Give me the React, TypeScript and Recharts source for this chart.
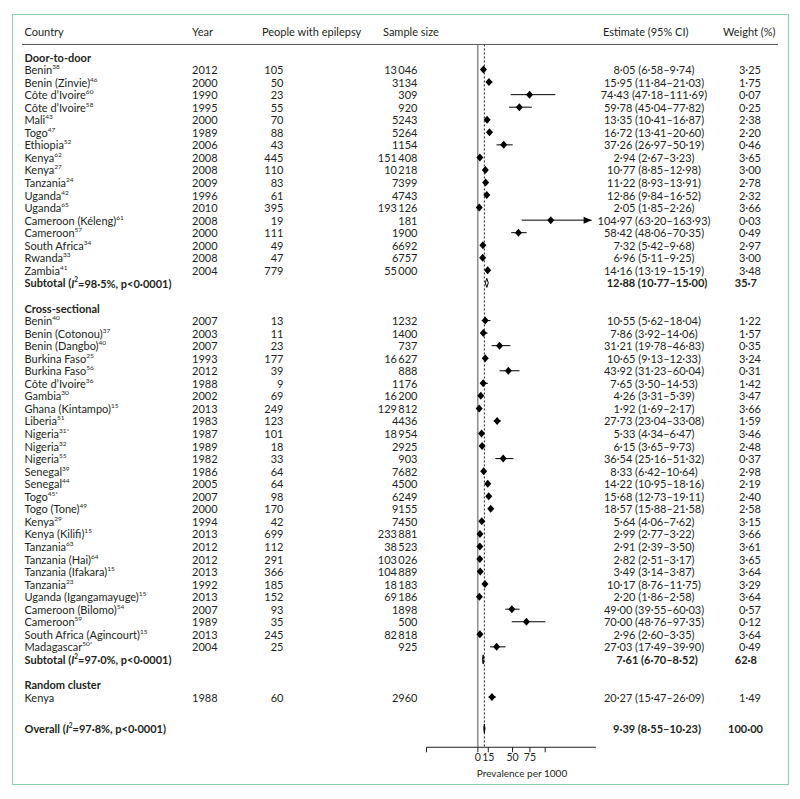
import React from "react";
import { ScatterChart, Scatter, XAxis, YAxis, ErrorBar, ReferenceLine } from "recharts";

// [country, reference, year, people with epilepsy, sample size, estimate, lower, upper, weight %]
type Study = [string, string, number, number, number, number, number, number, number];

const doorToDoor: Study[] = [
  ["Benin", "38", 2012, 105, 13046, 8.05, 6.58, 9.74, 3.25],
  ["Benin (Zinvie)", "46", 2000, 50, 3134, 15.95, 11.84, 21.03, 1.75],
  ["Côte d’Ivoire", "60", 1990, 23, 309, 74.43, 47.18, 111.69, 0.07],
  ["Côte d’Ivoire", "58", 1995, 55, 920, 59.78, 45.04, 77.82, 0.25],
  ["Mali", "43", 2000, 70, 5243, 13.35, 10.41, 16.87, 2.38],
  ["Togo", "47", 1989, 88, 5264, 16.72, 13.41, 20.6, 2.2],
  ["Ethiopia", "52", 2006, 43, 1154, 37.26, 26.97, 50.19, 0.46],
  ["Kenya", "62", 2008, 445, 151408, 2.94, 2.67, 3.23, 3.65],
  ["Kenya", "27", 2008, 110, 10218, 10.77, 8.85, 12.98, 3.0],
  ["Tanzania", "24", 2009, 83, 7399, 11.22, 8.93, 13.91, 2.78],
  ["Uganda", "42", 1996, 61, 4743, 12.86, 9.84, 16.52, 2.32],
  ["Uganda", "65", 2010, 395, 193126, 2.05, 1.85, 2.26, 3.66],
  ["Cameroon (Kéleng)", "61", 2008, 19, 181, 104.97, 63.2, 163.93, 0.03],
  ["Cameroon", "57", 2000, 111, 1900, 58.42, 48.06, 70.35, 0.49],
  ["South Africa", "34", 2000, 49, 6692, 7.32, 5.42, 9.68, 2.97],
  ["Rwanda", "33", 2008, 47, 6757, 6.96, 5.11, 9.25, 3.0],
  ["Zambia", "41", 2004, 779, 55000, 14.16, 13.19, 15.19, 3.48],
];

const crossSectional: Study[] = [
  ["Benin", "40", 2007, 13, 1232, 10.55, 5.62, 18.04, 1.22],
  ["Benin (Cotonou)", "37", 2003, 11, 1400, 7.86, 3.92, 14.06, 1.57],
  ["Benin (Dangbo)", "40", 2007, 23, 737, 31.21, 19.78, 46.83, 0.35],
  ["Burkina Faso", "25", 1993, 177, 16627, 10.65, 9.13, 12.33, 3.24],
  ["Burkina Faso", "56", 2012, 39, 888, 43.92, 31.23, 60.04, 0.31],
  ["Côte d’Ivoire", "36", 1988, 9, 1176, 7.65, 3.5, 14.53, 1.42],
  ["Gambia", "30", 2002, 69, 16200, 4.26, 3.31, 5.39, 3.47],
  ["Ghana (Kintampo)", "15", 2013, 249, 129812, 1.92, 1.69, 2.17, 3.66],
  ["Liberia", "51", 1983, 123, 4436, 27.73, 23.04, 33.08, 1.59],
  ["Nigeria", "31*", 1987, 101, 18954, 5.33, 4.34, 6.47, 3.46],
  ["Nigeria", "32", 1989, 18, 2925, 6.15, 3.65, 9.73, 2.48],
  ["Nigeria", "55", 1982, 33, 903, 36.54, 25.16, 51.32, 0.37],
  ["Senegal", "39", 1986, 64, 7682, 8.33, 6.42, 10.64, 2.98],
  ["Senegal", "44", 2005, 64, 4500, 14.22, 10.95, 18.16, 2.19],
  ["Togo", "45*", 2007, 98, 6249, 15.68, 12.73, 19.11, 2.4],
  ["Togo (Tone)", "49", 2000, 170, 9155, 18.57, 15.88, 21.58, 2.58],
  ["Kenya", "29", 1994, 42, 7450, 5.64, 4.06, 7.62, 3.15],
  ["Kenya (Kilifi)", "15", 2013, 699, 233881, 2.99, 2.77, 3.22, 3.66],
  ["Tanzania", "63", 2012, 112, 38523, 2.91, 2.39, 3.5, 3.61],
  ["Tanzania (Hai)", "64", 2012, 291, 103026, 2.82, 2.51, 3.17, 3.65],
  ["Tanzania (Ifakara)", "15", 2013, 366, 104889, 3.49, 3.14, 3.87, 3.64],
  ["Tanzania", "23", 1992, 185, 18183, 10.17, 8.76, 11.75, 3.29],
  ["Uganda (Igangamayuge)", "15", 2013, 152, 69186, 2.2, 1.86, 2.58, 3.64],
  ["Cameroon (Bilomo)", "54", 2007, 93, 1898, 49.0, 39.55, 60.03, 0.57],
  ["Cameroon", "59", 1989, 35, 500, 70.0, 48.76, 97.35, 0.12],
  ["South Africa (Agincourt)", "15", 2013, 245, 82818, 2.96, 2.6, 3.35, 3.64],
  ["Madagascar", "50*", 2004, 25, 925, 27.03, 17.49, 39.9, 0.49],
];

const randomCluster: Study[] = [["Kenya", "", 1988, 60, 2960, 20.27, 15.47, 26.09, 1.49]];

const groupNames = ["Door-to-door", "Cross-sectional", "Random cluster"];
// [I² %, estimate, lower, upper, weight %]
const subtotals = [
  [98.5, 12.88, 10.77, 15.0, 35.7],
  [97.0, 7.61, 6.7, 8.52, 62.8],
];
const overall = [97.8, 9.39, 8.55, 10.23, 100.0];

const headers = ["Country", "Year", "People with epilepsy", "Sample size", "Estimate (95% CI)", "Weight (%)"];
const axisTicks = [0, 15, 50, 75];
const axisLabel = "Prevalence per 1000";

// layout
const W = 800;
const H = 799;
const X_MIN = -74;
const X_MAX = 170;
const AXIS_MAX = 97;
const PX = 0.694; // px per unit
const PLOT_LEFT = 426.5;
const PLOT_RIGHT = PLOT_LEFT + (X_MAX - X_MIN) * PX;
const ROW_H = 12.55;
const ROW0_Y = 57;
const Y_MIN = -3;
const Y_MAX = 55;
const PLOT_TOP = ROW0_Y + Y_MIN * ROW_H;
const PLOT_BOTTOM = ROW0_Y + Y_MAX * ROW_H;
const AXIS_H = 40;
const ARROW_FROM = 150;
const DIAMOND_H = 0.36; // rows

const INK = "#231f20";
const FONT = "Lato, 'Noto Sans', sans-serif";
const FS = 11;
const COL = { country: 24.5, year: 192, cases: 283.5, n: 417.5, est: 654, w: 761 };
const HEAD_X = [24.5, 192, 262, 383, 603, 723];

const dec = (v: number, d = 2) => v.toFixed(d).replace(".", "·");
const ciText = (e: number, lo: number, hi: number) => `${dec(e)} (${dec(lo)}–${dec(hi)})`;
const big = (n: number) =>
  n >= 10000 ? String(n).replace(/\B(?=(\d{3})+(?!\d))/g, "\u2009") : String(n);

type Row = {
  pos: number;
  kind: "header" | "rule" | "section" | "study" | "subtotal" | "overall";
  label?: string;
  ref?: string;
  year?: number;
  cases?: number;
  n?: number;
  est?: number;
  lo?: number;
  hi?: number;
  w?: number;
  i2?: number;
};

const rows: Row[] = [
  { pos: -2, kind: "header" },
  { pos: -1, kind: "rule" },
];
let cursor = 0;
[doorToDoor, crossSectional, randomCluster].forEach((g, gi) => {
  rows.push({ pos: cursor++, kind: "section", label: groupNames[gi] });
  g.forEach(([label, ref, year, cases, n, est, lo, hi, w]) =>
    rows.push({ pos: cursor++, kind: "study", label, ref, year, cases, n, est, lo, hi, w })
  );
  const s = subtotals[gi];
  if (s) rows.push({ pos: cursor++, kind: "subtotal", i2: s[0], est: s[1], lo: s[2], hi: s[3], w: s[4] });
  cursor += 1;
});
cursor += 0.5;
rows.push({ pos: cursor, kind: "overall", i2: overall[0], est: overall[1], lo: overall[2], hi: overall[3], w: overall[4] });

const rowByPos = new Map(rows.map((r) => [r.pos, r]));

const studyPts = rows
  .filter((r) => r.kind === "study")
  .map((r) => ({ x: r.est!, y: r.pos, err: [r.est! - r.lo!, r.hi! - r.est!] }));
const arrowPts = rows
  .filter((r) => r.kind === "study" && r.hi! > ARROW_FROM)
  .map((r) => ({ x: r.hi!, y: r.pos }));
const diamonds = rows
  .filter((r) => r.kind === "subtotal" || r.kind === "overall")
  .map((r) => [
    { x: r.lo!, y: r.pos },
    { x: r.est!, y: r.pos - DIAMOND_H },
    { x: r.hi!, y: r.pos },
    { x: r.est!, y: r.pos + DIAMOND_H },
    { x: r.lo!, y: r.pos },
  ]);

const txt = { fontSize: FS, fill: INK, fontFamily: FONT, dominantBaseline: "central" as const };

const Sup = ({ s }: { s: string }) => (
  <tspan dy={-3.5} fontSize={6.5}>
    {s}
  </tspan>
);

const RowTick = (props: any) => {
  const { y, payload } = props;
  const r = rowByPos.get(payload.value);
  if (!r) return <g />;
  if (r.kind === "header") {
    return (
      <g>
        {headers.map((h, i) => (
          <text key={h} x={HEAD_X[i]} y={y} {...txt}>
            {h}
          </text>
        ))}
      </g>
    );
  }
  if (r.kind === "rule") return <line x1={22} x2={778} y1={y} y2={y} stroke="#555" strokeWidth={1} />;
  if (r.kind === "section") {
    return (
      <text x={COL.country} y={y} {...txt} fontWeight={700}>
        {r.label}
      </text>
    );
  }
  if (r.kind === "study") {
    return (
      <g>
        <text x={COL.country} y={y} {...txt}>
          {r.label}
          {r.ref ? <Sup s={r.ref} /> : null}
        </text>
        <text x={COL.year} y={y} {...txt}>
          {r.year}
        </text>
        <text x={COL.cases} y={y} {...txt} textAnchor="end">
          {r.cases}
        </text>
        <text x={COL.n} y={y} {...txt} textAnchor="end">
          {big(r.n!)}
        </text>
        <text x={COL.est} y={y} {...txt} textAnchor="middle">
          {ciText(r.est!, r.lo!, r.hi!)}
        </text>
        <text x={COL.w} y={y} {...txt} textAnchor="end">
          {dec(r.w!)}
        </text>
      </g>
    );
  }
  const title = r.kind === "subtotal" ? "Subtotal (" : "Overall (";
  return (
    <g>
      <text x={COL.country} y={y} {...txt} fontWeight={700}>
        {title}
        <tspan fontStyle="italic">I</tspan>
        <tspan dy={-3.5} fontSize={6.5}>
          2
        </tspan>
        <tspan dy={3.5}>{`=${dec(r.i2!, 1)}%, p<0·0001)`}</tspan>
      </text>
      <text x={COL.est + 3} y={y} {...txt} fontWeight={700} textAnchor="middle">
        {ciText(r.est!, r.lo!, r.hi!)}
      </text>
      <text x={r.kind === "subtotal" ? COL.w - 4 : COL.w + 2} y={y} {...txt} fontWeight={700} textAnchor="end">
        {dec(r.w!, r.kind === "subtotal" ? 1 : 2)}
      </text>
    </g>
  );
};

const Diamond = (p: any) => (
  <polygon
    points={`${p.cx - 3.5},${p.cy} ${p.cx},${p.cy - 4} ${p.cx + 3.5},${p.cy} ${p.cx},${p.cy + 4}`}
    fill="#000"
  />
);

const Arrow = (p: any) => (
  <polygon points={`${p.cx},${p.cy} ${p.cx - 8},${p.cy - 3.5} ${p.cx - 8},${p.cy + 3.5}`} fill="#000" />
);

const Empty = () => <g />;

const AxisLabel = (p: any) => {
  const vb = p.viewBox || {};
  return (
    <text x={vb.x + (0 - X_MIN) * PX - 1} y={vb.y + 26} fontSize={10} fill={INK} fontFamily={FONT} dominantBaseline="central">
      {axisLabel}
    </text>
  );
};

export default function App() {
  return (
    <div style={{ position: "absolute", left: 0, top: 0, width: W, height: H, background: "#fff" }}>
      <div
        style={{
          position: "absolute",
          left: 12,
          top: 14,
          width: 777,
          height: 771,
          border: "1.5px solid #92cfb0",
          boxSizing: "border-box",
        }}
      />
      <div style={{ position: "absolute", left: 0, top: 0 }}>
        <ScatterChart
          width={W}
          height={H}
          margin={{ top: PLOT_TOP, right: W - PLOT_RIGHT, bottom: H - PLOT_BOTTOM - AXIS_H, left: 0 }}
        >
          <XAxis
            xAxisId="axis"
            type="number"
            dataKey="x"
            domain={[X_MIN, AXIS_MAX]}
            allowDataOverflow
            ticks={[X_MIN, ...axisTicks, AXIS_MAX]}
            interval={0}
            tickFormatter={(v: number) => (axisTicks.includes(v) ? String(v) : "")}
            padding={{ left: 0, right: (X_MAX - AXIS_MAX) * PX }}
            height={AXIS_H}
            tickSize={5}
            tickMargin={1}
            stroke={INK}
            tick={{ fontSize: 10.5, fill: INK, fontFamily: FONT }}
            label={<AxisLabel />}
          />
          <XAxis xAxisId="p" type="number" dataKey="x" domain={[X_MIN, X_MAX]} hide />
          <YAxis
            type="number"
            dataKey="y"
            domain={[Y_MIN, Y_MAX]}
            reversed
            width={PLOT_LEFT}
            ticks={rows.map((r) => r.pos)}
            interval={0}
            axisLine={false}
            tickLine={false}
            tick={<RowTick />}
          />
          <ReferenceLine
            xAxisId="p"
            segment={[
              { x: 0, y: -1 },
              { x: 0, y: Y_MAX },
            ]}
            stroke="#555"
            strokeWidth={1}
          />
          <ReferenceLine
            xAxisId="p"
            segment={[
              { x: overall[1], y: -1 },
              { x: overall[1], y: Y_MAX },
            ]}
            stroke={INK}
            strokeWidth={1}
            strokeDasharray="2 2"
          />
          <Scatter xAxisId="p" data={studyPts} shape={<Diamond />} isAnimationActive={false}>
            <ErrorBar dataKey="err" direction="x" width={0} stroke="#000" strokeWidth={1} isAnimationActive={false} />
          </Scatter>
          <Scatter xAxisId="p" data={arrowPts} shape={<Arrow />} isAnimationActive={false} />
          {diamonds.map((d, i) => (
            <Scatter
              key={i}
              xAxisId="p"
              data={d}
              shape={<Empty />}
              line={{ stroke: "#000", strokeWidth: 1, fill: i === 2 ? "#000" : "none" }}
              isAnimationActive={false}
            />
          ))}
        </ScatterChart>
      </div>
    </div>
  );
}
